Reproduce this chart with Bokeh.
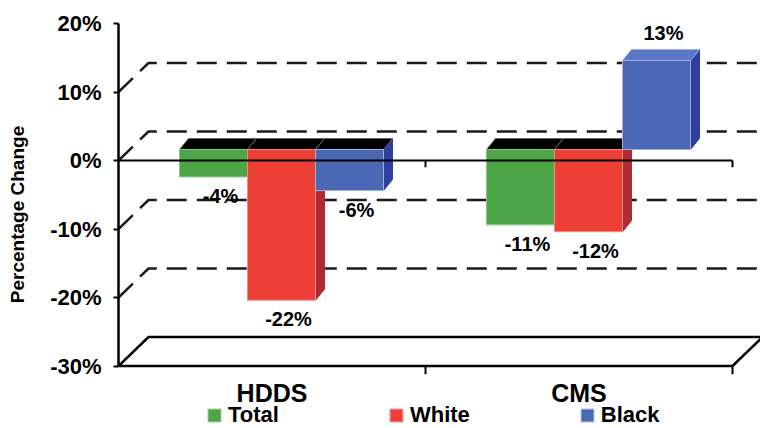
from bokeh.plotting import figure
from bokeh.models import (Range1d, FixedTicker, PrintfTickFormatter, Legend,
                          LegendItem, ColumnDataSource)
from bokeh.core.properties import value
from bokeh.embed import file_html
from bokeh.resources import INLINE

# ---------------- data ----------------
categories = ["HDDS", "CMS"]
series_names = ["Total", "White", "Black"]
total_vals = [-4, -11]
white_vals = [-22, -12]
black_vals = [-6, 13]
y_ticks = [-30, -20, -10, 0, 10, 20]

# ---------------- styles / geometry ----------------
FONT = "Liberation Sans"
W, H = 760, 428
LEFT = 118
PX_X = 307.0          # pixels per category
PX_Y = 6.85           # pixels per percent
Y0_PX = 160           # 0% position from the figure top
x_end = (W - LEFT) / PX_X
y_top = Y0_PX / PX_Y
y_bot = -(H - Y0_PX) / PX_Y

DDX, DDY = 30 / PX_X, 29 / PX_Y      # depth of the back wall
BW = 68 / PX_X                       # bar width
OX = 9.5 / PX_X                      # bar shift to mid depth
BASE = 11 / PX_Y
BDX, BDY = 9 / PX_X, 11 / PX_Y       # bar depth

front_col = ["#4da548", "#ee3f36", "#4b68b5"]
edge_col = ["#86c883", "#f58a84", "#a3afe3"]
side_col = ["#2f7a2c", "#b02a35", "#2f3f9f"]
top_pos_col = ["#5cb457", "#f25a52", "#5a76c6"]

p = figure(width=W, height=H, x_range=Range1d(0, x_end), y_range=Range1d(y_bot, y_top),
           output_backend="svg", toolbar_location=None, title=None,
           x_axis_location=None, min_border_left=LEFT, min_border_right=0,
           min_border_top=0, min_border_bottom=0)
p.grid.visible = False
p.outline_line_color = None
p.background_fill_color = "white"

# y axis
ax = p.yaxis[0]
ax.ticker = FixedTicker(ticks=y_ticks)
ax.formatter = PrintfTickFormatter(format="%d%%")
ax.bounds = (min(y_ticks), max(y_ticks))
ax.minor_tick_line_color = None
ax.major_tick_out = 5
ax.major_tick_in = 0
ax.major_tick_line_width = 2
ax.axis_line_width = 2.5
ax.axis_line_color = "black"
ax.major_tick_line_color = "black"
ax.major_label_text_font = FONT
ax.major_label_text_font_style = "bold"
ax.major_label_text_font_size = "22px"
ax.major_label_text_color = "black"
ax.major_label_standoff = 12
ax.axis_label = "Percentage Change"
ax.axis_label_text_font = FONT
ax.axis_label_text_font_style = "bold"
ax.axis_label_text_font_size = "19px"
ax.axis_label_text_color = "black"
ax.axis_label_standoff = 19

# back-wall dashed gridlines with slanted depth lines
gx, gy = [], []
for t in y_ticks:
    if t in (min(y_ticks), max(y_ticks)):
        continue
    gx.append([0, DDX, 3])
    gy.append([t, t + DDY, t + DDY])
p.multi_line(gx, gy, line_color="#1a1a1a", line_width=2.5, line_dash="20 10")

# floor
fl = min(y_ticks)
p.multi_line([[0, DDX, 3], [0, len(categories), len(categories) + DDX]],
             [[fl, fl + DDY, fl + DDY], [fl, fl, fl + DDY]],
             line_color="black", line_width=2.5)

# bars
all_vals = [total_vals, white_vals, black_vals]
face_xs, face_ys, face_fill, face_line = [], [], [], []
fronts = {i: dict(left=[], right=[], bottom=[], top=[]) for i in range(3)}
lab = dict(x=[], y=[], text=[], yoff=[])
for ci, cat in enumerate(categories):
    for si in range(3):
        v = all_vals[si][ci]
        L = ci + 0.5 + (si - 1.5) * BW + OX
        R = L + BW
        b, t = min(BASE, BASE + v), max(BASE, BASE + v)
        # side face
        face_xs.append([R, R, R + BDX, R + BDX])
        face_ys.append([b, t, t + BDY, b + BDY])
        face_fill.append(side_col[si])
        face_line.append(side_col[si])
        # top face
        face_xs.append([L, R, R + BDX, L + BDX])
        face_ys.append([t, t, t + BDY, t + BDY])
        if v < 0:
            face_fill.append("black")
            face_line.append("#666666")
        else:
            face_fill.append(top_pos_col[si])
            face_line.append(edge_col[si])
        fronts[si]["left"].append(L)
        fronts[si]["right"].append(R)
        fronts[si]["bottom"].append(b)
        fronts[si]["top"].append(t)
        lab["x"].append((L + R) / 2)
        lab["y"].append(BASE + v)
        lab["text"].append(f"{v}%")
        lab["yoff"].append(19 if v < 0 else -27)

p.patches(face_xs, face_ys, fill_color=face_fill, line_color=face_line, line_width=1)

front_renderers = []
for si in range(3):
    r = p.quad(source=ColumnDataSource(fronts[si]), left="left", right="right",
               bottom="bottom", top="top", fill_color=front_col[si],
               line_color=edge_col[si], line_width=1)
    front_renderers.append(r)

# category axis at 0% (drawn over the bars) and its ticks
n = len(categories)
p.segment(x0=[0], y0=[0], x1=[n], y1=[0], line_color="black", line_width=2.2)
tick_x = [i + 1 for i in range(n)]
p.segment(x0=tick_x + tick_x, y0=[0] * n + [fl] * n,
          x1=tick_x + tick_x, y1=[-1.0] * n + [fl - 1.2] * n,
          line_color="black", line_width=2)

# value labels
p.text(x="x", y="y", text="text", y_offset="yoff", x_offset=7,
       source=ColumnDataSource(lab), text_font=value(FONT), text_font_style="bold",
       text_font_size="20px", text_align="center", text_baseline="middle",
       text_color="black")

# category labels
p.text(x=[i + 0.5 for i in range(n)], y=[fl] * n, text=categories, y_offset=27,
       text_font=value(FONT), text_font_style="bold", text_font_size="25px",
       text_align="center", text_baseline="middle", text_color="black")

legend = Legend(items=[LegendItem(label=s, renderers=[r])
                       for s, r in zip(series_names, front_renderers)],
                location=(88, 0), orientation="horizontal", spacing=109,
                padding=0, margin=0, glyph_width=16, glyph_height=16,
                label_standoff=6, label_text_font=FONT, label_text_font_style="bold",
                label_text_font_size="22px", label_text_color="black",
                border_line_color=None, background_fill_alpha=0)
p.add_layout(legend, "center")

open("out.html", "w").write(file_html(p, INLINE))
